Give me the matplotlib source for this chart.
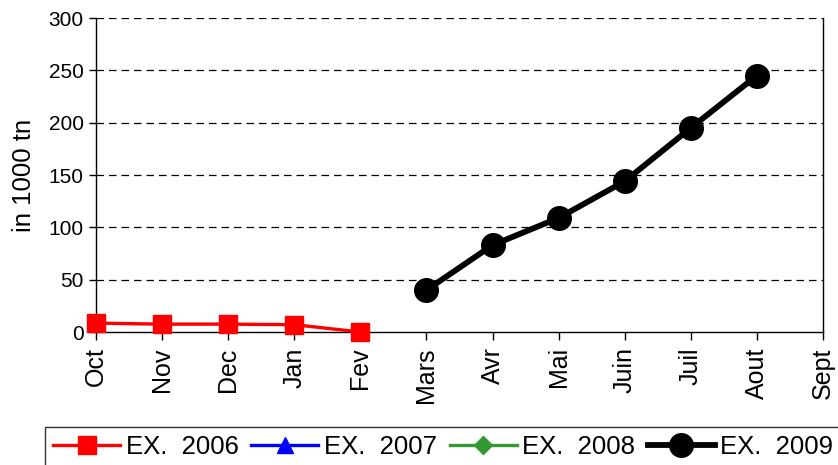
import matplotlib
matplotlib.use("Agg")
import matplotlib.pyplot as plt
import numpy as np

months = ["Oct", "Nov", "Dec", "Jan", "Fev", "Mars", "Avr", "Mai", "Juin", "Juil", "Aout", "Sept"]
ex2006 = [8.5, 7.5, 7.5, 7, 0, None, None, None, None, None, None, None]
ex2007 = [None] * 12
ex2008 = [None] * 12
ex2009 = [None, None, None, None, None, 40, 83, 109, 144, 195, 245, None]

plt.rcParams['font.family'] = ['Liberation Sans', 'DejaVu Sans']

def arr(v):
    return np.array([np.nan if x is None else x for x in v], dtype=float)

fig = plt.figure(figsize=(8.38, 4.65), dpi=100)
ax = fig.add_axes([96/838, 1-332/465, (823-96)/838, (332-18)/465])
x = np.arange(len(months))

ax.plot(x, arr(ex2006), color='#ff0000', lw=2.4, marker='s', ms=13, label='EX.  2006', clip_on=False, zorder=3)
ax.plot(x, arr(ex2007), color='#0000ff', lw=2.4, marker='^', ms=12, label='EX.  2007', clip_on=False, zorder=3)
ax.plot(x, arr(ex2008), color='#339933', lw=2.4, marker='D', ms=9, label='EX.  2008', clip_on=False, zorder=3)
ax.plot(x, arr(ex2009), color='#000000', lw=4.2, marker='o', ms=17, label='EX.  2009', clip_on=False, zorder=3)

ax.set_xlim(0, 11)
ax.set_ylim(0, 300)
ax.set_yticks(range(0, 301, 50))
ax.set_xticks(x)
ax.set_xticklabels(months, rotation=90, fontsize=18)
ax.tick_params(axis='y', labelsize=15, length=5, width=1, direction='out', pad=4)
ax.tick_params(axis='x', length=6, width=1, direction='out', pad=5)
for yv in range(50, 301, 50):
    ax.axhline(yv, color='#000000', lw=0.9, ls=(0, (6, 4)), zorder=1)
ax.spines['top'].set_visible(False)
for s in ['left', 'bottom', 'right']:
    ax.spines[s].set_linewidth(1.0)
    ax.spines[s].set_color('black')
ax.set_ylabel('in 1000 tn', fontsize=18.5, labelpad=9)

leg = fig.legend(loc='upper left', bbox_to_anchor=(45/838, 1-427/465), ncol=4, fontsize=18.5,
                 frameon=True, fancybox=False, edgecolor='black', handlelength=2.6,
                 columnspacing=0.5, handletextpad=0.22, borderpad=0.32, borderaxespad=0)
leg.get_frame().set_linewidth(1.0)

fig.savefig('out.png', dpi=100)
